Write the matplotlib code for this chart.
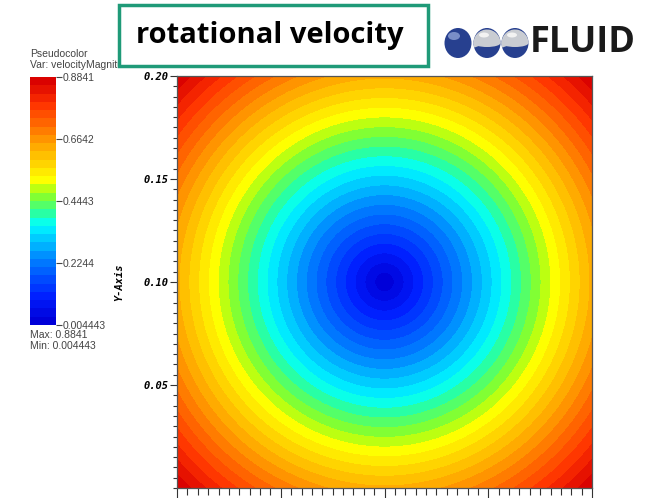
import numpy as np
import matplotlib
matplotlib.use("Agg")
import matplotlib.pyplot as plt
from matplotlib.colors import LinearSegmentedColormap, BoundaryNorm
from matplotlib.patches import Rectangle, Ellipse, Wedge

# ---- data ----
title = "rotational velocity"
var_name = "velocityMagnitude"
v_min = 0.004443
v_max = 0.8841
cbar_ticks = [0.004443, 0.2244, 0.4443, 0.6642, 0.8841]
cbar_labels = ["0.004443", "0.2244", "0.4443", "0.6642", "0.8841"]
n_bands = 30
center = (0.10, 0.10)          # rotation centre (m)
domain = (0.0, 0.20)           # square domain
y_ticks = [0.05, 0.10, 0.15, 0.20]
y_tick_labels = ["0.05", "0.10", "0.15", "0.20"]
x_ticks = [0.0, 0.05, 0.10, 0.15, 0.20]

# colour anchors (fraction, colour)
cmap_anchors = [
    (0.00, (0.00, 0.00, 0.85)),
    (0.10, (0.00, 0.12, 1.00)),
    (0.26, (0.00, 0.52, 1.00)),
    (0.40, (0.00, 1.00, 1.00)),
    (0.46, (0.20, 1.00, 0.55)),
    (0.53, (0.60, 1.00, 0.10)),
    (0.585, (1.00, 1.00, 0.00)),
    (0.75, (1.00, 0.60, 0.00)),
    (0.90, (1.00, 0.20, 0.00)),
    (1.00, (0.85, 0.00, 0.00)),
]
cmap = LinearSegmentedColormap.from_list("visit", cmap_anchors)

# velocity magnitude field of rigid rotation, scaled to the shown min/max
n = 400
xs = np.linspace(domain[0], domain[1], n)
X, Y = np.meshgrid(xs, xs)
R = np.hypot(X - center[0], Y - center[1])
V = v_min + (v_max - v_min) * R / R.max()

levels = np.linspace(v_min, v_max, n_bands + 1)
norm = BoundaryNorm(levels, cmap.N)

W, H = 661, 498
fig = plt.figure(figsize=(W / 100, H / 100), dpi=100)

small = dict(fontsize=7.5, color="#444444", family="Liberation Sans")
fig.text(30 / W, 1 - 57 / H, "Pseudocolor", va="baseline", **small)
fig.text(30 / W, 1 - 68 / H, "Var: " + var_name, va="baseline", **small)
fig.text(30 / W, 1 - 338 / H, "Max: 0.8841", va="baseline", **small)
fig.text(30 / W, 1 - 349 / H, "Min: 0.004443", va="baseline", **small)

# ---- main axes ----
ax = fig.add_axes([177 / W, 1 - 488 / H, 415 / W, 412 / H])
ax.contourf(X, Y, V, levels=levels, cmap=cmap, norm=norm)
ax.set_xlim(*domain)
ax.set_ylim(*domain)
ax.set_yticks(y_ticks)
ax.set_yticklabels(y_tick_labels)
ax.set_xticks(x_ticks)
ax.set_xticklabels([])
ax.set_yticks(np.arange(0.0, 0.2001, 0.005), minor=True)
ax.set_xticks(np.arange(0.0, 0.2001, 0.005), minor=True)
mono = dict(family="DejaVu Sans Mono", weight="bold", style="italic")
for lab in ax.get_yticklabels():
    lab.set_fontfamily("DejaVu Sans Mono")
    lab.set_fontweight("bold")
    lab.set_fontstyle("italic")
    lab.set_fontsize(7.5)
ax.tick_params(axis="y", which="major", direction="out", length=5, width=0.8, color="#333333", pad=1)
ax.tick_params(axis="y", which="minor", direction="out", length=3, width=0.8, color="#333333")
ax.tick_params(axis="x", which="major", direction="out", length=9, width=0.8, color="#333333")
ax.tick_params(axis="x", which="minor", direction="out", length=5, width=0.8, color="#333333")
ax.tick_params(top=False, right=False)
for s in ax.spines.values():
    s.set_color("#555555")
    s.set_linewidth(0.9)
ax.text(-0.14, 0.5, "Y-Axis", transform=ax.transAxes, rotation=90,
        ha="center", va="center", fontsize=7.5, **mono)

# ---- colour bar ----
cax = fig.add_axes([30 / W, 1 - 325 / H, 26 / W, 248 / H])
cb_y = levels
cb_x = np.array([0, 1])
cax.pcolormesh(cb_x, cb_y, ((cb_y[:-1] + cb_y[1:]) / 2)[:, None], cmap=cmap, norm=norm)
cax.set_ylim(v_min, v_max)
cax.set_xlim(0, 1)
cax.set_xticks([])
cax.yaxis.tick_right()
cax.set_yticks(cbar_ticks)
cax.set_yticklabels(cbar_labels)
cax.tick_params(axis="y", length=4, width=0.8, color="#444444", pad=1,
                labelsize=7.5, labelcolor="#444444")
for lab in cax.get_yticklabels():
    lab.set_fontfamily("Liberation Sans")
for s in cax.spines.values():
    s.set_visible(False)

# ---- title box ----
fig.patches.append(Rectangle((119 / W, 1 - 66 / H), (428 - 119) / W, (66 - 5) / H,
                             transform=fig.transFigure, facecolor="white",
                             edgecolor="#1f9a78", linewidth=2.5, zorder=5))
fig.text(270 / W, 1 - 36 / H, title, ha="center", va="center", fontsize=21,
         fontweight="bold", family="Open Sans", color="black", zorder=6)

# ---- logo ----
lax = fig.add_axes([440 / W, 1 - 62 / H, 200 / W, 40 / H])
lax.set_xlim(440, 640)
lax.set_ylim(62, 22)
lax.axis("off")
for i, cx in enumerate([458, 487, 515]):
    lax.add_patch(Ellipse((cx, 43), 27, 30, facecolor="#27408f", edgecolor="none"))
    if i == 0:
        lax.add_patch(Ellipse((cx - 4, 36), 12, 8, facecolor="#8fa3d6", edgecolor="none", alpha=0.8))
    else:
        lax.add_patch(Wedge((cx, 43), 13.5, 160, 360, facecolor="#c9ccd2", edgecolor="none"))
        lax.add_patch(Ellipse((cx, 43), 27, 8, facecolor="#c9ccd2", edgecolor="none"))
        lax.add_patch(Ellipse((cx - 3, 35), 10, 5, facecolor="#f2f2f2", edgecolor="none"))
lax.text(530, 43, "FLUID", ha="left", va="center", fontsize=26, fontweight="bold",
         family="Open Sans", color="#1a1a1a")

fig.savefig("out.png", dpi=100)
